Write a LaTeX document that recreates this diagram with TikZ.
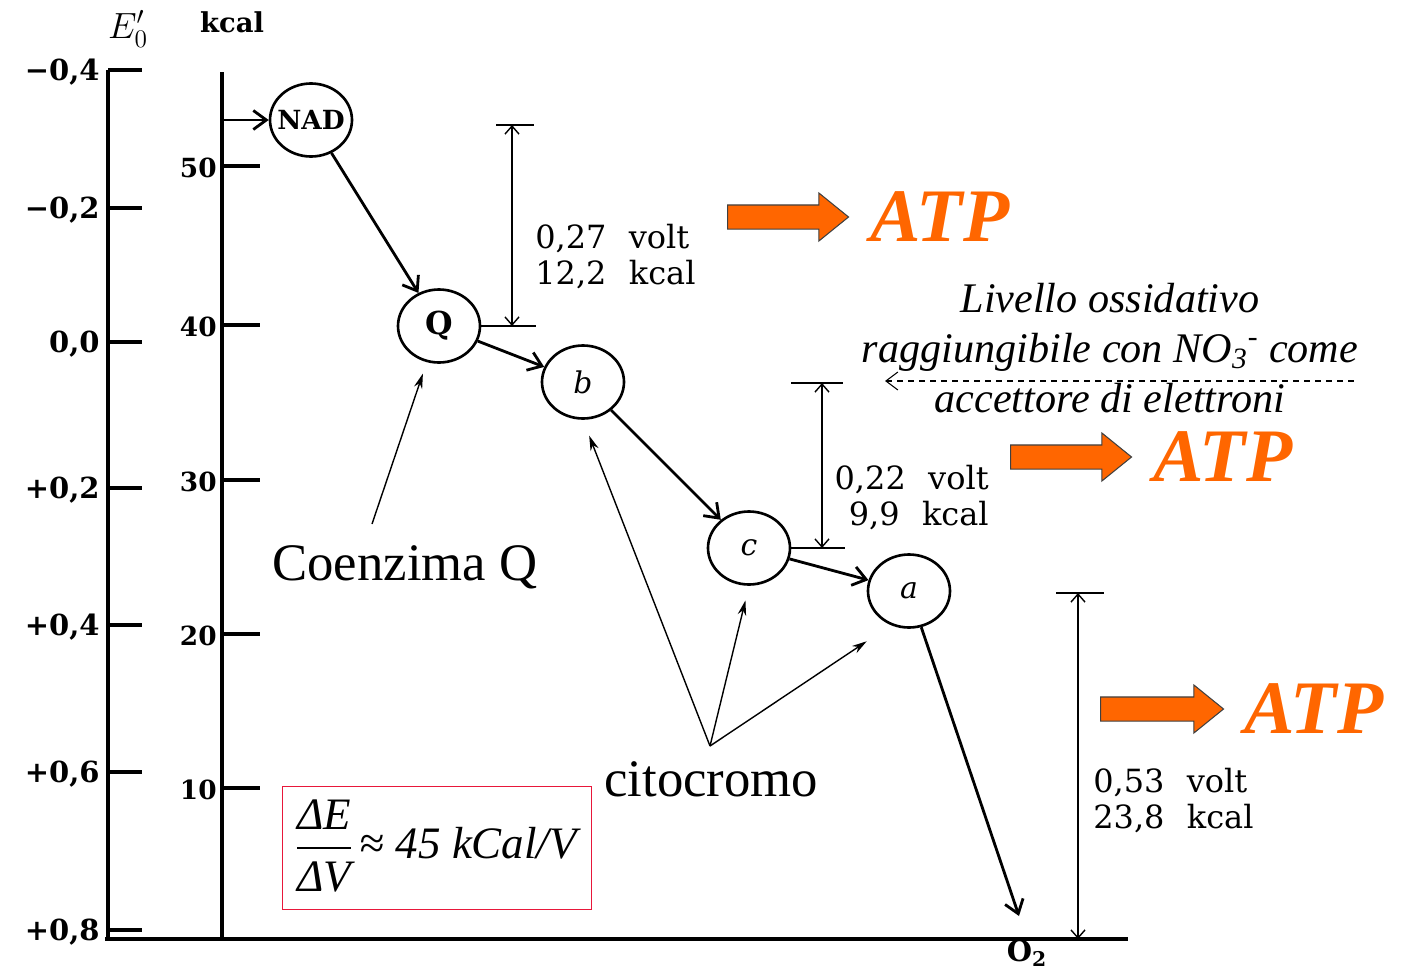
\documentclass[tikz,border=0pt]{standalone}
\usepackage{fontspec}
\setmainfont{DejaVu Serif}
\newfontfamily\timesfont{Liberation Serif}
\usetikzlibrary{arrows.meta,positioning,shapes.geometric,shapes.arrows}
\definecolor{atporange}{HTML}{FF6600}
\definecolor{boxred}{HTML}{E8173A}

\begin{document}
\begin{tikzpicture}[x=0.2mm, y=-0.2mm,
  >={Straight Barb[length=2.6mm,width=3.8mm]},
  axis/.style={line width=1.8pt},
  scalelab/.style={font=\bfseries\fontsize{15}{17}\selectfont, inner sep=0pt},
  carrier/.style={ellipse, draw, line width=1.5pt, minimum width=16.4mm,
    minimum height=14.6mm, inner sep=0pt},
  flow/.style={->, line width=1.6pt},
  pointer/.style={-{Stealth[length=3mm,width=1.7mm]}, line width=0.8pt},
  gap/.style={{Straight Barb[length=1.6mm,width=2.8mm]}-{Straight Barb[length=1.6mm,width=2.8mm]},
    line width=0.8pt},
  bar/.style={line width=1.6pt},
  gaplab/.style={font=\fontsize{18.2}{20.5}\selectfont, inner sep=0pt},
  atparrow/.style={single arrow, draw=black!75, line width=0.6pt, fill=atporange,
    minimum height=24.2mm, inner xsep=0pt, inner ysep=2.3mm, text height=0pt,
    text depth=0pt, single arrow head extend=2.4mm, single arrow tip angle=78},
  atp/.style={text=atporange, inner sep=0pt,
    font=\timesfont\bfseries\itshape\fontsize{43}{48}\selectfont},
  bigtext/.style={font=\timesfont\fontsize{30}{34}\selectfont, inner sep=0pt},
  note/.style={font=\timesfont\itshape\fontsize{24}{28.5}\selectfont, align=center,
    inner sep=0pt},
  nitro/.style={{Straight Barb[length=2.4mm,width=3.6mm]}-, dash pattern=on 1.2mm off 1mm,
    line width=0.6pt}
]
\useasboundingbox (0,0) rectangle (1401,971);

% the two scales and the base line
\draw[axis] (108,70) -- (108,939);
\draw[axis] (222,72) -- (222,939);
\draw[axis] (105,939) -- (1128,939);
\foreach \yy/\lab [count=\i] in {70/{−0,4}, 208/{−0,2}, 342/{0,0}, 488/{+0,2},
    625/{+0,4}, 772/{+0,6}, 930/{+0,8}}{
  \draw[axis] (108,\yy) -- (142,\yy);
  \node[scalelab, font=\bfseries\fontsize{16.5}{19}\selectfont, anchor=east] (ev\i)
    at (100,\yy+2) {\lab};
}
\foreach \yy/\lab in {166/50, 325/40, 480/30, 634/20, 788/10}{
  \draw[axis] (222,\yy) -- (260,\yy);
  \node[scalelab, anchor=east] (kc\lab) at (217,\yy+2) {\lab};
}
\node[inner sep=0pt, font=\fontsize{20}{24}\selectfont] (eohead) at (128,29) {$E'_{0}$};
\node[scalelab, font=\bfseries\fontsize{15.6}{18}\selectfont] (kchead) at (232,22) {kcal};

% the carriers
\node[carrier, font=\bfseries\fontsize{15}{18}\selectfont] (nad) at (311,120)
  {\makebox[0pt]{NAD}};
\node[carrier, font=\bfseries\fontsize{18}{20}\selectfont] (q) at (439,326) {Q};
\node[carrier, font=\itshape\fontsize{17}{20}\selectfont] (b) at (583,382) {b};
\node[carrier, font=\itshape\fontsize{17}{20}\selectfont] (c) at (749,548) {c};
\node[carrier, font=\itshape\fontsize{17}{20}\selectfont] (a) at (909,591) {a};
\node[scalelab, font=\bfseries\fontsize{16.5}{19}\selectfont] (otwo) at (1027,953)
  {O\textsubscript{2}};

% electron flow
\coordinate (nadin) at (222,120);
\coordinate (o2end) at (1019,916);
\draw[flow] (nadin) -- (nad);
\draw[flow] (nad) -- (q);
\draw[flow] (q) -- (b);
\draw[flow] (b) -- (c);
\draw[flow] (c) -- (a);
\draw[flow] (a) -- (o2end);

% the three energy steps
\coordinate (g1top) at (512,125);
\coordinate (g1bot) at (512,326);
\draw[bar] (496,125) -- (534,125);
\draw[bar] (q.east) -- (536,326);
\draw[gap] (g1top) -- (g1bot);
\node[gaplab, anchor=west, align=left] (g1lab) at (535,257)
  {0,27\hspace{.7em}volt\\12,2\hspace{.7em}kcal};
\coordinate (g2top) at (822,383);
\coordinate (g2bot) at (822,548);
\draw[bar] (791,383) -- (843,383);
\draw[bar] (c.east) -- (845,548);
\draw[gap] (g2top) -- (g2bot);
\node[gaplab, anchor=east, align=right] (g2lab) at (989,498)
  {0,22\hspace{.7em}volt\\9,9\hspace{.7em}kcal};
\coordinate (g3top) at (1078,593);
\coordinate (g3bot) at (1078,939);
\draw[bar] (1056,593) -- (1104,593);
\draw[gap] (g3top) -- (g3bot);
\node[gaplab, anchor=west, align=left] (g3lab) at (1093,801)
  {0,53\hspace{.7em}volt\\23,8\hspace{.7em}kcal};

% ATP arrows
\node[atparrow, anchor=tail] (aro1) at (727,217) {};
\node[atp, right=4.2mm of aro1.tip] (atp1) {ATP};
\node[atparrow, anchor=tail] (aro2) at (1010,457) {};
\node[atp, right=4.2mm of aro2.tip] (atp2) {ATP};
\node[atparrow, anchor=tail, minimum height=24.6mm] (aro3) at (1100,709) {};
\node[atp, right=4mm of aro3.tip] (atp3) {ATP};

% nitrate level
\node[note] (nitrate) at (1110,348) {Livello ossidativo\\
  raggiungibile con NO\textsubscript{3}\textsuperscript{-} come\\
  accettore di elettroni};
\coordinate (dashfrom) at (1355,381);
\coordinate (dashto) at (885,381);
\draw[nitro] (dashto) -- (dashfrom);

% labels with pointers
\node[bigtext, anchor=base west] (coq) at (272,580) {Coenzima Q};
\coordinate (coqtail) at (372,524);
\draw[pointer, shorten >=2.4mm] (coqtail) -- (q);
\node[bigtext, anchor=base west] (cito) at (604,796) {citocromo};
\coordinate (citotail) at (710,746);
\draw[pointer, shorten >=3.4mm] (citotail) -- (b.south);
\draw[pointer, shorten >=3mm] (citotail) -- (c.south);
\draw[pointer, shorten >=5.8mm] (citotail) -- (a.242);

% ratio box
\node[draw=boxred, line width=0.9pt, minimum width=61.8mm, minimum height=22.6mm,
  inner sep=0pt, font=\timesfont\itshape\fontsize{25.6}{30}\selectfont] (ratio)
  at (437,848) {\renewcommand\arraystretch{1.15}\setlength\arrayrulewidth{0.8pt}%
  \begin{tabular}{@{}c@{}}ΔE\\\hline ΔV\end{tabular}\hspace{0.2em}≈ 45 kCal/V};
\end{tikzpicture}
\end{document}
